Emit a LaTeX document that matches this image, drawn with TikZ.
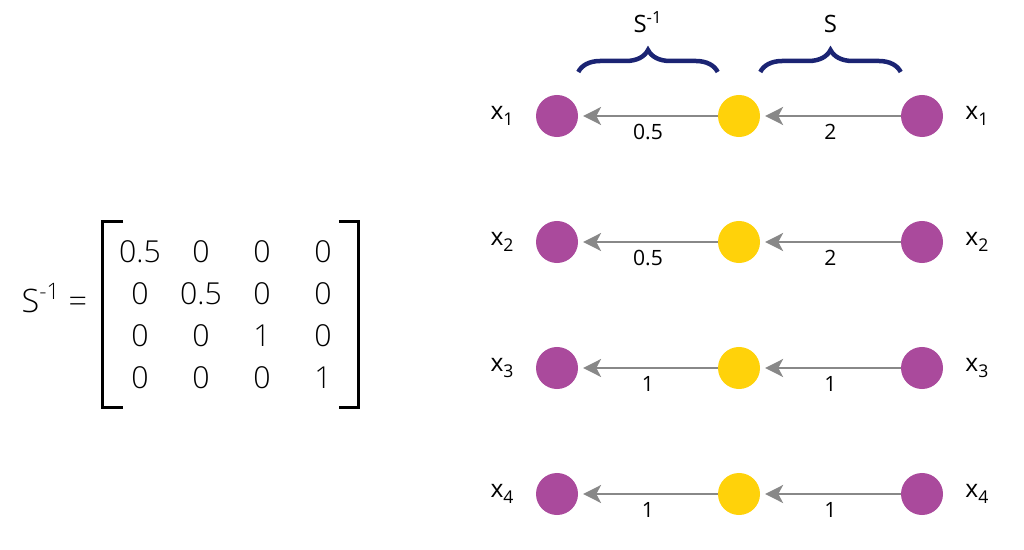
\documentclass[tikz,border=0pt]{standalone}
\usepackage{fontspec}
\setmainfont{Open Sans}
\newfontfamily\lightfont{Open Sans Light}
\usetikzlibrary{positioning,matrix,arrows.meta,decorations.pathreplacing}
\definecolor{plum}{HTML}{AA4A9C}
\definecolor{gold}{HTML}{FFD20A}
\definecolor{navy}{HTML}{1B2473}
\definecolor{edgegray}{HTML}{888888}
\newcommand\varsub[1]{\raisebox{-4.3pt}{\fontsize{12.5}{14}\selectfont#1}}
\tikzset{
  var/.style = {circle, fill = plum, minimum size = 1.05cm, inner sep = 0pt},
  mid/.style = {circle, fill = gold, minimum size = 1.05cm, inner sep = 0pt},
  edge/.style = {draw = edgegray, line width = 1.4pt, shorten > = 0.12cm, -{Stealth[length = 0.45cm, width = 0.45cm, inset = 0.12cm]}},
  weight/.style = {midway, below = 2pt, font = \fontsize{15}{18}\selectfont},
  varlabel/.style = {font = \fontsize{17.5}{20}\selectfont},
  brace/.style = {decorate, decoration = {brace, amplitude = 0.55cm}, draw = navy, line width = 3.2pt},
  bracelabel/.style = {midway, above = 0.8cm, font = \fontsize{17}{20}\selectfont},
  bracket/.style = {draw, line width = 2.1pt, line join = miter, line cap = butt}
}
\begin{document}
\begin{tikzpicture}[x = 0.025cm, y = -0.025cm]
\useasboundingbox (0,0) rectangle (1024,550);
\matrix (Sinv) [matrix of nodes, column sep = 0pt, row sep = 0pt, inner sep = 0pt,
  nodes = {minimum width = 1.525cm, minimum height = 1.05cm, inner sep = 0pt, font = \lightfont\fontsize{21.5}{25}\selectfont}] at (231.5,314.5) {
0.5 & 0 & 0 & 0 \\
0 & 0.5 & 0 & 0 \\
0 & 0 & 1 & 0 \\
0 & 0 & 0 & 1 \\
};
\node[anchor = east, font = \lightfont\fontsize{23}{28}\selectfont] (lhs) at (92,298) {S\textsuperscript{-1} =};
\draw[bracket] ([shift = {(14,-9)}]Sinv.north west) -- ([shift = {(-7,-9)}]Sinv.north west) -- ([shift = {(-7,9)}]Sinv.south west) -- ([shift = {(14,9)}]Sinv.south west);
\draw[bracket] ([shift = {(-15,-9)}]Sinv.north east) -- ([shift = {(5,-9)}]Sinv.north east) -- ([shift = {(5,9)}]Sinv.south east) -- ([shift = {(-15,9)}]Sinv.south east);
\foreach \r/\yy/\wl/\wr in {1/116/0.5/2, 2/242/0.5/2, 3/368/1/1, 4/494/1/1} {
  \node[var] (out\r) at (557,\yy) {};
  \node[mid] (hid\r) at (739,\yy) {};
  \node[var] (in\r) at (922,\yy) {};
  \node[varlabel, left = 0.43cm of out\r] (outlab\r) {x\varsub{\r}};
  \node[varlabel, right = 0.43cm of in\r] (inlab\r) {x\varsub{\r}};
  \draw[edge] (in\r) -- (hid\r) node[weight] {\wr};
  \draw[edge] (hid\r) -- (out\r) node[weight] {\wl};
}
\draw[brace] ([yshift = 1.1cm]out1.east) -- ([yshift = 1.1cm]hid1.west) node[bracelabel] (invlab) {S\textsuperscript{-1}};
\draw[brace] ([yshift = 1.1cm]hid1.east) -- ([yshift = 1.1cm]in1.west) node[bracelabel] (fwdlab) {S};
\end{tikzpicture}
\end{document}
